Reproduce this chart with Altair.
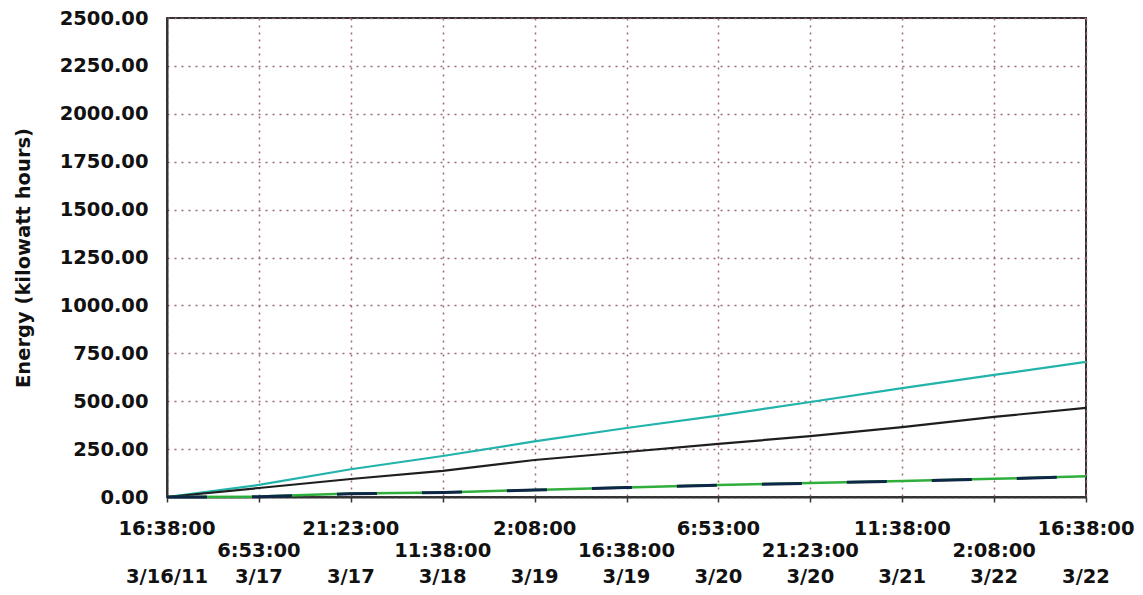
import altair as alt
import pandas as pd

# Tick positions (equally spaced sample points) and their labels
tick_index = list(range(11))
tick_times = ["16:38:00", "6:53:00", "21:23:00", "11:38:00", "2:08:00", "16:38:00",
              "6:53:00", "21:23:00", "11:38:00", "2:08:00", "16:38:00"]
tick_dates = ["3/16/11", "3/17", "3/17", "3/18", "3/19", "3/19",
              "3/20", "3/20", "3/21", "3/22", "3/22"]

# Cumulative energy (kWh) read at each tick
cyan_vals = [0, 63, 145, 214, 290, 360, 425, 496, 568, 637, 705]
black_vals = [0, 47, 94, 136, 193, 235, 277, 318, 365, 418, 465]
green_vals = [0, 2, 18, 24, 37, 50, 62, 73, 84, 95, 108]
navy_vals = [0, 1, 17, 23, 36, 49, 61, 72, 83, 94, 107]

series = [
    ("cyan", cyan_vals, "#22b3ab"),
    ("black", black_vals, "#1e1e1e"),
    ("green", green_vals, "#2fae3c"),
    ("navy", navy_vals, "#0f2747"),
]

rows = []
for name, vals, _ in series:
    for i, v in zip(tick_index, vals):
        rows.append({"t": i, "kwh": v, "series": name})
df = pd.DataFrame(rows)

lab_rows = []
for i, (tm, dt) in enumerate(zip(tick_times, tick_dates)):
    lab_rows.append({"t": i, "text": tm, "row": 0 if i % 2 == 0 else 1})
    lab_rows.append({"t": i, "text": dt, "row": 2})
labels = pd.DataFrame(lab_rows)

FONT = "DejaVu Sans"
GRID = "#9a6a70"

x_enc = alt.X(
    "t:Q",
    scale=alt.Scale(domain=[0, 10], nice=False, zero=False),
    axis=alt.Axis(
        values=tick_index,
        labels=False,
        title=None,
        grid=True,
        gridColor=GRID,
        gridDash=[2, 5],
        gridWidth=1.5,
        tickSize=5,
        tickColor="#333333",
        tickWidth=1.5,
        domainColor="#333333",
        domainWidth=2,
    ),
)
y_enc = alt.Y(
    "kwh:Q",
    scale=alt.Scale(domain=[0, 2500], nice=False),
    axis=alt.Axis(
        values=list(range(0, 2501, 250)),
        format=".2f",
        title="Energy (kilowatt hours)",
        titleFont=FONT,
        titleFontSize=19.5,
        titleFontWeight="bold",
        titleColor="#111111",
        titlePadding=26,
        grid=True,
        gridColor=GRID,
        gridDash=[2, 5],
        gridWidth=1.5,
        ticks=False,
        labelPadding=19,
        labelFont=FONT,
        labelFontSize=19.5,
        labelFontWeight="bold",
        labelColor="#111111",
        domainColor="#333333",
        domainWidth=2,
    ),
)

layers = []
for name, vals, color in series:
    sub = alt.Chart(df).transform_filter(alt.datum.series == name)
    if name == "navy":
        m = sub.mark_line(color=color, strokeWidth=3, strokeDash=[40, 45])
    elif name == "green":
        m = sub.mark_line(color=color, strokeWidth=2.5)
    else:
        m = sub.mark_line(color=color, strokeWidth=2.2)
    layers.append(m.encode(x=x_enc, y=y_enc))

row_y = [511, 532.5, 559]
for r, yv in enumerate(row_y):
    t = alt.Chart(labels).transform_filter(alt.datum.row == r).mark_text(
        font=FONT, fontSize=19.5, fontWeight="bold", color="#111111",
        align="center", baseline="middle",
    ).encode(x=alt.X("t:Q"), y=alt.value(yv), text="text:N")
    layers.append(t)

chart = alt.layer(*layers).properties(
    width=919,
    height=479,
    padding={"left": 159, "top": 10, "right": 49, "bottom": 96},
    autosize=alt.AutoSizeParams(type="none"),
    background="white",
).configure_view(stroke="#333333", strokeWidth=2)

chart.save("out.html", embed_options={"renderer": "svg", "actions": False})
